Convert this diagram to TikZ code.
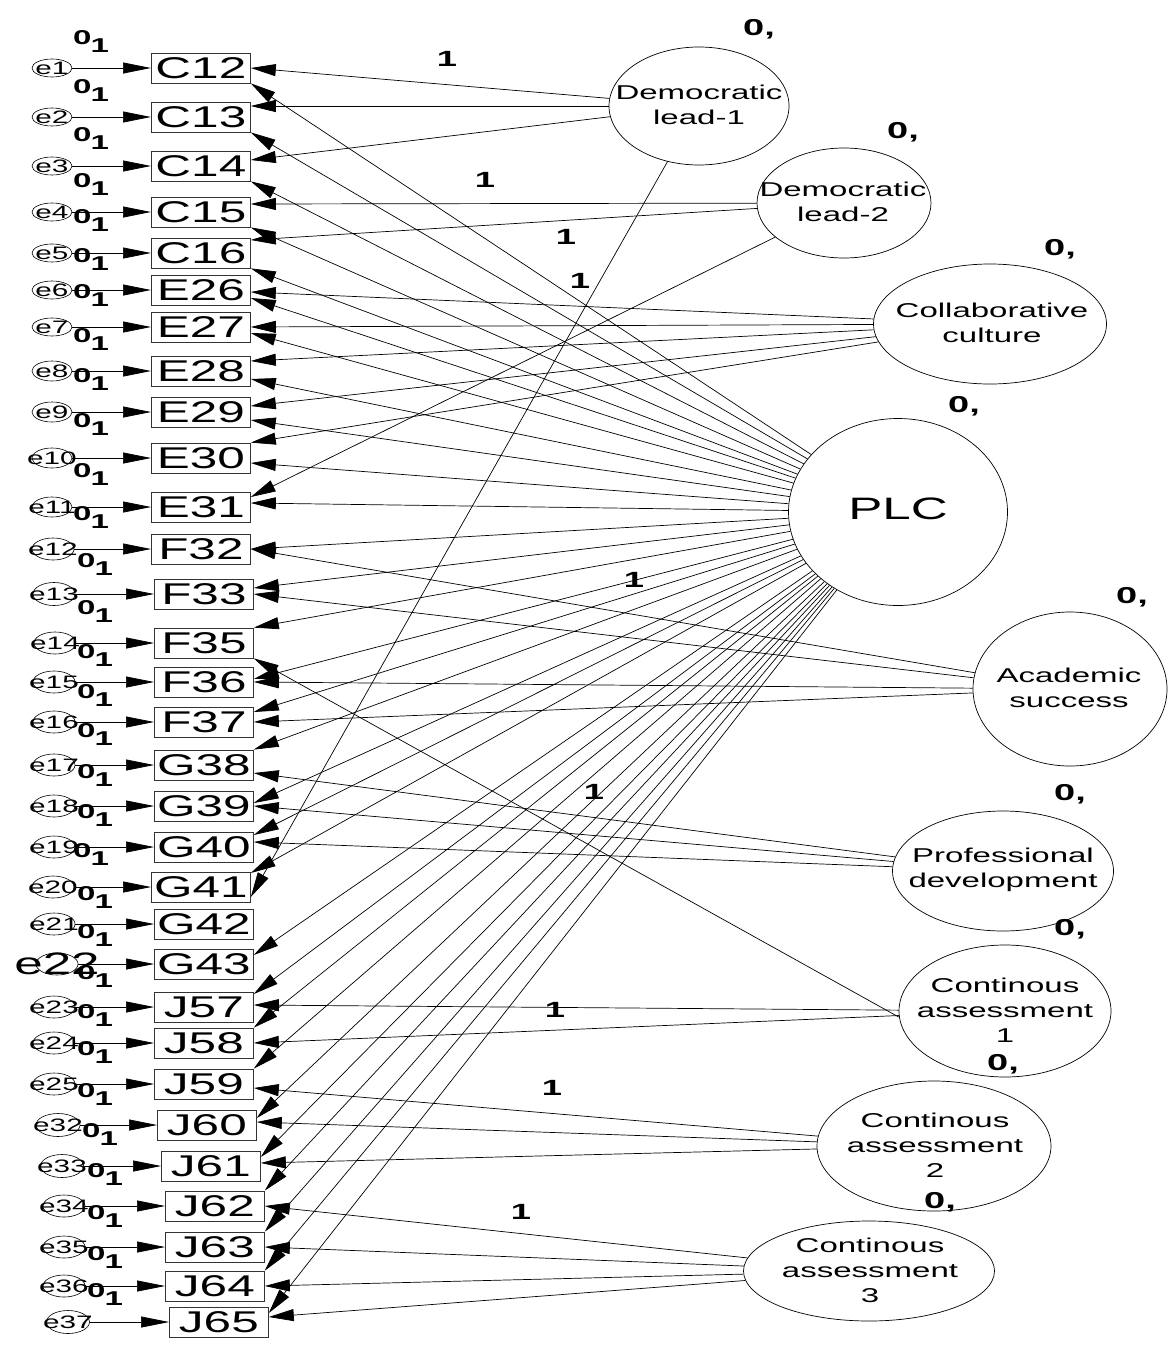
\documentclass[tikz,border=0pt]{standalone}
\usepackage{fontspec}
\setmainfont{Liberation Sans}
\newfontfamily\wf{Liberation Sans}[FakeStretch=1.65]
\newfontfamily\wfb{Liberation Sans Bold}[FakeStretch=1.65]
\usetikzlibrary{arrows.meta,shapes.geometric}
\begin{document}
\begin{tikzpicture}[x=1pt,y=-1pt,
  obs/.style={draw=black!80, line width=0.8pt, rectangle, minimum width=99pt, minimum height=30pt, inner sep=0pt, anchor=west, font=\wf\fontsize{30}{30}\selectfont},
  err/.style={draw=black, line width=0.6pt, ellipse, inner sep=0pt},
  etxt/.style={inner sep=0pt},
  lat/.style={draw=black, line width=0.7pt, ellipse, inner sep=0pt},
  lattxt/.style={inner sep=0pt, align=center, font=\wf\fontsize{20}{25}\selectfont},
  zlab/.style={inner sep=0pt, font=\wfb\fontsize{23}{23}\selectfont},
  onelab/.style={inner sep=0pt, font=\wfb\fontsize{22}{22}\selectfont},
  zolab/.style={inner sep=0pt, anchor=base west, font=\wfb\fontsize{20}{20}\selectfont},
  pth/.style={draw=black, line width=0.7pt, -{Triangle[length=25pt,width=12pt]}},
  epth/.style={draw=black, line width=0.7pt, -{Triangle[length=28pt,width=11pt]}}]
\useasboundingbox (0,0) rectangle (1168,1352);
\fill[white] (0,0) rectangle (1168,1352);

% observed boxes with error terms
\foreach \n/\xl/\y/\en/\ex/\ew/\eh/\fs in {
C12/151/68/e1/52/40/18/18,
C13/151/117/e2/52/40/18/18,
C14/151/166/e3/52/40/18/18,
C15/151/212/e4/52/40/18/18,
C16/151/253/e5/52/40/18/18,
E26/151/290/e6/52/40/18/18,
E27/151/327/e7/52/40/18/18,
E28/151/371/e8/52/40/20/18,
E29/151/412/e9/52/40/20/18,
E30/151/458/e10/52/40/20/18,
E31/151/507/e11/52/40/20/18,
F32/151/549/e12/53/42/22/18,
F33/154/594/e13/54/42/23/18,
F35/154/643/e14/55/42/22/18,
F36/154/682/e15/54/42/22/18,
F37/154/722/e16/54/42/22/18,
G38/154/765/e17/54/42/22/18,
G39/154/806/e18/54/42/22/18,
G40/154/847/e19/54/42/22/18,
G41/151/887/e20/53/42/22/18,
G42/154/924/e21/54/42/22/18,
G43/154/964/e22/57/42/22/31,
J57/154/1007/e23/54/42/22/18,
J58/154/1043/e24/54/42/22/18,
J59/154/1084/e25/54/42/22/18,
J60/157/1125/e32/58/44/23/18,
J61/161/1166/e33/62/43/23/18,
J62/165/1206/e34/64/42/22/18,
J63/165/1247/e35/64/42/22/18,
J64/165/1286/e36/64/42/22/18,
J65/169/1322/e37/68/43/23/18}
{
  \node[obs] (\n) at (\xl,\y) {\n};
  \node[err, minimum width=\ew pt, minimum height=\eh pt] (\en) at (\ex,\y) {};
  \node[etxt, font=\wf\fontsize{\fs}{\fs}\selectfont] (t\en) at (\ex,\y) {\en};
  \draw[epth] (\en) -- (\n.west);
}

% small 0,1 labels
\foreach \cx/\cy [count=\k] in {81/37,81/86,81/134,81/180,81/216,81/255,81/291,81/335,81/375,81/420,81/470,81/513,85/560,85/607,85/651,85/691,85/730,85/771,85/811,81/850,85/893,85/931,85/972,85/1011,85/1048,85/1090,90/1130,95/1170,95/1212,95/1253,95/1290}
{
  \node[zolab] (l\k) at (\cx-8,\cy+7) {0\kern-1pt\raisebox{-8pt}{1}};
}

% latent variables
\node[lat, minimum width=180pt, minimum height=118pt] (DL1) at (699,106) {};
\node[lat, minimum width=174pt, minimum height=110pt] (DL2) at (844,203) {};
\node[lat, minimum width=233pt, minimum height=120pt] (CC) at (990,324) {};
\node[lat, minimum width=219pt, minimum height=187pt] (PLC) at (898,512) {};
\node[lat, minimum width=194pt, minimum height=154pt] (AS) at (1070,689) {};
\node[lat, minimum width=221pt, minimum height=120pt] (PD) at (1003,871) {};
\node[lat, minimum width=212pt, minimum height=132pt] (CA1) at (1005,1011) {};
\node[lat, minimum width=234pt, minimum height=130pt] (CA2) at (934,1146) {};
\node[lat, minimum width=251pt, minimum height=100pt] (CA3) at (869,1271) {};

\node[lattxt] (DL1t) at (699,105) {Democratic\\lead-1};
\node[lattxt] (DL2t) at (843,202) {Democratic\\lead-2};
\node[lattxt] (CCt) at (992,323) {Collaborative\\culture};
\node[lattxt, font=\wf\fontsize{31}{31}\selectfont] (PLCt) at (898,509) {PLC};
\node[lattxt] (ASt) at (1069,688) {Academic\\success};
\node[lattxt] (PDt) at (1003,870) {Professional\\development};
\node[lattxt] (CA1t) at (1005,1010) {Continous\\assessment\\1};
\node[lattxt] (CA2t) at (935,1145) {Continous\\assessment\\2};
\node[lattxt] (CA3t) at (870,1270) {Continous\\assessment\\3};

% "0," labels
\foreach \zx/\zy [count=\k] in {743/35,887/138,1044/255,948/412,1116/603,1054/800,1054/935,987/1070,924/1208}
{
  \node[zlab, anchor=base west] (z\k) at (\zx,\zy) {0,};
}

% "1" labels
\foreach \ox/\oy [count=\k] in {447/59,485/180,566/237,580/281,634/580,594/792,555/1010,552/1088,521/1212}
{
  \node[onelab] (o\k) at (\ox,\oy) {1};
}

% specific factors
\draw[pth] (DL1) -- (C12.east);
\draw[pth] (DL1) -- ([yshift=11pt]C13.east);
\draw[pth] (DL1) -- ([yshift=6pt]C14.east);
\draw[pth] (DL1) -- ([yshift=-10pt]G41.east);
\draw[pth] (DL2) -- ([yshift=8pt]C15.east);
\draw[pth] (DL2) -- ([yshift=13pt]C16.east);
\draw[pth] (DL2) -- ([yshift=10pt]E31.east);
\draw[pth] (CC) -- ([yshift=-2pt]E26.east);
\draw[pth] (CC) -- (E27.east);
\draw[pth] (CC) -- ([yshift=10pt]E28.east);
\draw[pth] (CC) -- ([yshift=6pt]E29.east);
\draw[pth] (CC) -- (E30.north east);
\draw[pth] (AS) -- (F32.east);
\draw[pth] (AS) -- (F33.east);
\draw[pth] (AS) -- (F36.east);
\draw[pth] (AS) -- (F37.east);
\draw[pth] (PD) -- ([yshift=-8pt]G38.east);
\draw[pth] (PD) -- (G39.east);
\draw[pth] (PD) -- ([yshift=5pt]G40.east);
\draw[pth] ([yshift=-6pt]CA1.west) -- (F35.south east);
\draw[pth] (CA1) -- ([yshift=2pt]J57.east);
\draw[pth] (CA1) -- (J58.east);
\draw[pth] (CA2) -- ([yshift=-4pt]J59.east);
\draw[pth] (CA2) -- ([yshift=3pt]J60.east);
\draw[pth] (CA2) -- ([yshift=3pt]J61.east);
\draw[pth] (CA3) -- (J62.east);
\draw[pth] (CA3) -- (J63.east);
\draw[pth] (CA3) -- (J64.east);
\draw[pth] (CA3) -- ([yshift=5pt]J65.east);

% general factor PLC
\draw[pth] (PLC) -- (C12.south east);
\draw[pth] (PLC) -- (C13.south east);
\draw[pth] (PLC) -- (C14.south east);
\draw[pth] (PLC) -- (C15.south east);
\draw[pth] (PLC) -- (C16.south east);
\draw[pth] (PLC) -- ([yshift=-8pt]E26.east);
\draw[pth] (PLC) -- ([yshift=-6pt]E27.east);
\draw[pth] (PLC) -- ([yshift=-8pt]E28.east);
\draw[pth] (PLC) -- ([yshift=-8pt]E29.east);
\draw[pth] (PLC) -- ([yshift=-5pt]E30.east);
\draw[pth] (PLC) -- ([yshift=4pt]E31.east);
\draw[pth] (PLC) -- (F32.east);
\draw[pth] (PLC) -- ([yshift=6pt]F33.east);
\draw[pth] (PLC) -- (F35.north east);
\draw[pth] (PLC) -- ([yshift=3pt]F36.east);
\draw[pth] (PLC) -- ([yshift=10pt]F37.east);
\draw[pth] (PLC) -- (G38.north east);
\draw[pth] (PLC) -- ([yshift=3pt]G39.east);
\draw[pth] (PLC) -- ([yshift=12pt]G40.east);
\draw[pth] (PLC) -- ([yshift=14pt]G41.east);
\draw[pth] (PLC) -- ([yshift=9pt]G43.east);
\draw[pth] (PLC) -- ([yshift=13pt]J57.east);
\draw[pth] (PLC) -- (J58.north east);
\draw[pth] (PLC) -- (J59.north east);
\draw[pth] (PLC) -- ([yshift=7pt]J60.east);
\draw[pth] (PLC) -- ([yshift=9pt]J61.east);
\draw[pth] (PLC) -- (J62.north east);
\draw[pth] (PLC) -- (J63.north east);
\draw[pth] (PLC) -- (J64.north east);
\draw[pth] (PLC) -- ([yshift=9pt]J65.east);
\end{tikzpicture}
\end{document}
